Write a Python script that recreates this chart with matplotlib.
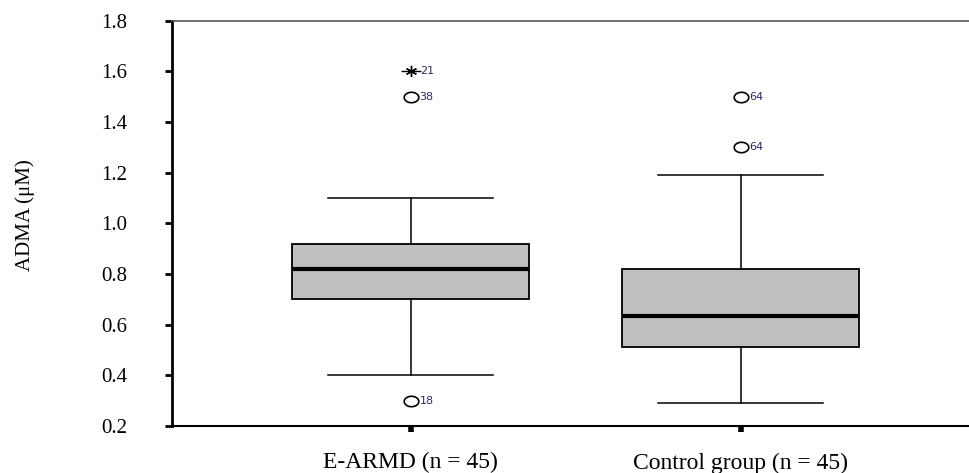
import numpy as np
import matplotlib.pyplot as plt
from matplotlib.path import Path

groups = ['E-ARMD (n = 45)', 'Control group (n = 45)']
q1 = [0.70, 0.51]
med = [0.82, 0.635]
q3 = [0.92, 0.82]
whislo = [0.40, 0.29]
whishi = [1.10, 1.19]

# outliers: group index, value, case label, extreme?
out_group = [1, 1, 1, 2, 2]
out_value = [1.60, 1.50, 0.30, 1.50, 1.30]
out_label = ['21', '38', '18', '64', '64']
out_extreme = [True, False, False, False, False]

yticks = [0.2, 0.4, 0.6, 0.8, 1.0, 1.2, 1.4, 1.6, 1.8]

plt.rcParams['font.family'] = ['Liberation Serif', 'DejaVu Serif']

# slightly wide open circle, like the SPSS outlier symbol
th = np.linspace(0, 2 * np.pi, 40)
ellipse = Path(np.column_stack([1.4 * np.cos(th), np.sin(th)]), closed=True)

fig = plt.figure(figsize=(9.69, 4.73), dpi=100)
ax = fig.add_axes([0.1775, 0.0994, 0.8225, 0.8568])

stats = []
for i in range(len(groups)):
    stats.append(dict(med=med[i], q1=q1[i], q3=q3[i], whislo=whislo[i], whishi=whishi[i], fliers=[]))

ax.bxp(stats, positions=[1, 2], widths=0.72, capwidths=0.50, showfliers=False, patch_artist=True,
       boxprops=dict(facecolor='#c0c0c0', edgecolor='black', linewidth=1.3),
       medianprops=dict(color='black', linewidth=3),
       whiskerprops=dict(color='black', linewidth=1.1),
       capprops=dict(color='black', linewidth=1.1))

for g, v, lab, ext in zip(out_group, out_value, out_label, out_extreme):
    if ext:
        ax.plot(g, v, marker=(6, 2, 0), ms=8, color='black', mew=1)
        ax.plot(g, v, marker='_', ms=14, color='black', mew=1)
    else:
        ax.plot(g, v, marker=ellipse, ms=10.5, mfc='none', mec='black', mew=1.2)
    ax.annotate(lab, (g, v), xytext=(6.5, 0), textcoords='offset points', va='center', ha='left',
                fontsize=8, color='#2a2a60', family='DejaVu Sans')

ax.set_xlim(0.277, 2.692)
ax.set_ylim(0.2, 1.8)
ax.set_yticks(yticks)
ax.set_yticklabels([f'{t:.1f}' for t in yticks])
ax.set_xticks([1, 2])
ax.set_xticklabels(groups)

ax.spines['right'].set_visible(False)
ax.spines['top'].set_color('#555555')
ax.spines['top'].set_linewidth(1.2)
ax.spines['left'].set_linewidth(2)
ax.spines['bottom'].set_linewidth(1.5)
ax.tick_params(axis='y', direction='out', length=5, width=2, pad=27, labelsize=15)
ax.tick_params(axis='x', direction='out', length=4.5, width=4, pad=14.5, labelsize=17)

ax.set_ylabel('ADMA (μM)', fontsize=15)
ax.yaxis.set_label_coords(-0.172, 0.52)

fig.savefig('out.png', dpi=100)
